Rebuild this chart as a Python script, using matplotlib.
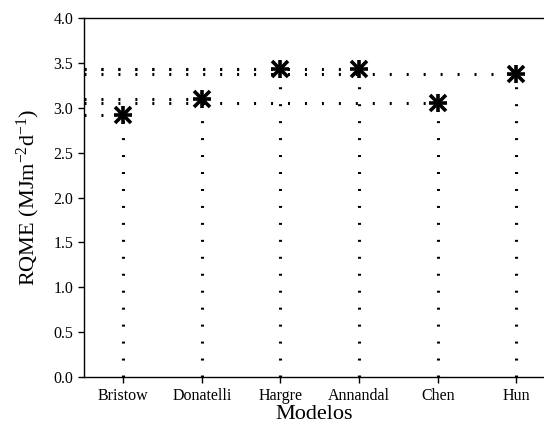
import matplotlib
matplotlib.use("Agg")
import matplotlib.pyplot as plt

# ---------------------------------------------------------
# DATA
# ---------------------------------------------------------
modelos = ["Bristow", "Donatelli", "Hargre", "Annandal", "Chen", "Hun"]
rqme = [2.92, 3.10, 3.43, 3.43, 3.05, 3.38]
y_ticks = [0.0, 0.5, 1.0, 1.5, 2.0, 2.5, 3.0, 3.5, 4.0]

plt.rcParams["font.family"] = ["Liberation Serif", "DejaVu Serif"]
plt.rcParams["mathtext.fontset"] = "custom"
plt.rcParams["mathtext.rm"] = "Liberation Serif"
plt.rcParams["mathtext.it"] = "Liberation Serif"
plt.rcParams["mathtext.default"] = "rm"

fig = plt.figure(figsize=(5.44, 4.30), dpi=100)
ax = fig.add_axes([0.154, 0.123, 0.846, 0.835])

x = list(range(len(modelos)))
x_left = -0.5

# drop lines (short dashes) to the axes
drop = dict(color="black", lw=2.2, linestyle=(0, (0.65, 4.9)),
            dash_capstyle="butt", zorder=1)
for xi, yi in zip(x, rqme):
    ax.plot([xi, xi], [0, yi], **drop)
    ax.plot([x_left, xi], [yi, yi], **drop)

# asterisk markers
ax.plot(x, rqme, linestyle="none", marker="+", ms=13, mew=2.6,
        color="black", zorder=3)
ax.plot(x, rqme, linestyle="none", marker="x", ms=11, mew=2.6,
        color="black", zorder=3)

ax.set_xlim(x_left, 5.35)
ax.set_ylim(0, 4.0)
ax.set_xticks(x)
ax.set_xticklabels(modelos)
ax.set_yticks(y_ticks)
ax.set_yticklabels([f"{v:.1f}" for v in y_ticks])

ax.tick_params(direction="out", labelsize=11.5, length=4, width=1)
ax.spines["right"].set_visible(False)
for s in ["left", "bottom", "top"]:
    ax.spines[s].set_linewidth(1.0)

ax.set_xlabel("Modelos", fontsize=16, labelpad=1)
ax.set_ylabel("RQME (MJm$^{-2}$d$^{-1}$)", fontsize=16, labelpad=8)

fig.savefig("out.png", dpi=100)
